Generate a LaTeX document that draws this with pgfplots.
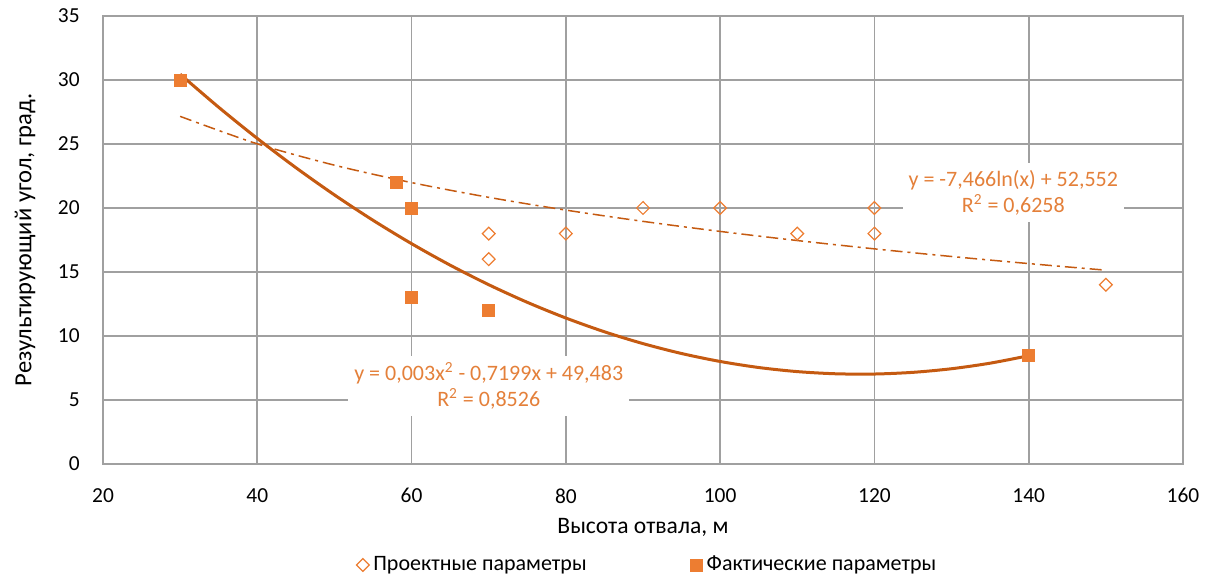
\documentclass[border=0pt]{standalone}
\usepackage{fontspec}
\setmainfont{Carlito}
\usepackage{pgfplots}
\pgfplotsset{compat=1.18}
\definecolor{mk}{RGB}{237,125,49}
\definecolor{tr}{RGB}{197,90,17}
\definecolor{eq}{RGB}{228,128,58}
\definecolor{gr}{RGB}{160,160,160}
\begin{document}
\fontsize{10.5}{12.6}\selectfont
\begin{tikzpicture}
\path[use as bounding box] (-51.5pt,-57pt) rectangle (554pt,232pt);
\begin{axis}[
 width=540pt, height=224pt, scale only axis,
 xmin=20,xmax=160, ymin=0,ymax=35,
 xtick={20,40,...,160}, ytick={0,5,...,35},
 grid=major, major grid style={gr, line width=0.8pt},
 axis line style={gr, line width=0.8pt},
 major tick length=0pt,
 tick label style={font=\fontsize{10.7}{12.6}\selectfont},
 /pgf/number format/assume math mode=true,
 xticklabel style={yshift=-8.5pt},
 yticklabel style={xshift=-8pt},
 xlabel={Высота отвала, м},
 ylabel={Результирующий угол, град.},
 xlabel style={font=\fontsize{11.8}{14}\selectfont, at={(axis description cs:0.5,-0.1406)},anchor=center},
 ylabel style={font=\fontsize{12.3}{14}\selectfont, at={(axis description cs:-0.0722,0.5)},anchor=center},
 legend columns=2,
 legend cell align=left,
 legend style={draw=none, at={(0.505,-0.2254)}, anchor=center, font=\fontsize{11}{13}\selectfont,
   /tikz/every even column/.append style={column sep=50pt}},
]
\addplot[only marks, mark=diamond, mark size=3.2pt, mark options={xscale=1.33, draw=mk, fill=white, line width=0.6pt}]
 coordinates {(70,18) (70,16) (80,18) (90,20) (100,20) (110,18) (120,20) (120,18) (150,14)};
\addlegendentry{Проектные параметры}
\addplot[only marks, mark=square*, mark size=3pt, mark options={draw=mk, fill=mk}]
 coordinates {(30,30) (58,22) (60,20) (60,13) (70,12) (140,8.5)};
\addlegendentry{Фактические параметры}
% polynomial trendline (as drawn)
\addplot[forget plot, tr, line width=1.5pt, smooth] coordinates {
(30,30.451) (35,27.868) (40,25.435) (45,23.153) (50,21.023) (55,19.042) (60,17.213)
(65,15.535) (70,14.007) (75,12.631) (80,11.405) (85,10.330) (90,9.406) (95,8.632)
(100,8.010) (105,7.538) (110,7.218) (115,7.048) (120,7.029) (125,7.161) (130,7.443)
(135,7.877) (140,8.461)};
% logarithmic trendline (as drawn)
\addplot[forget plot, tr, line width=0.75pt, smooth, dash pattern=on 6pt off 2.5pt on 1.5pt off 2.5pt] coordinates {
(30,27.159) (40,25.011) (50,23.345) (60,21.984) (70,20.833) (80,19.836) (90,18.956)
(100,18.170) (110,17.458) (120,16.808) (130,16.211) (140,15.658) (150,15.142)};
\node[fill=white, text=eq, align=center, inner xsep=3pt, inner ysep=3.5pt, font=\fontsize{11}{13}\selectfont]
 at (axis cs:70,6.1) {y = 0,003x\textsuperscript{2} - 0,7199x + 49,483\\R\textsuperscript{2} = 0,8526};
\node[fill=white, text=eq, align=center, inner xsep=3pt, inner ysep=3.5pt, font=\fontsize{11}{13}\selectfont]
 at (axis cs:138,21.2) {y = -7,466ln(x) + 52,552\\R\textsuperscript{2} = 0,6258};
\end{axis}
\end{tikzpicture}
\end{document}
